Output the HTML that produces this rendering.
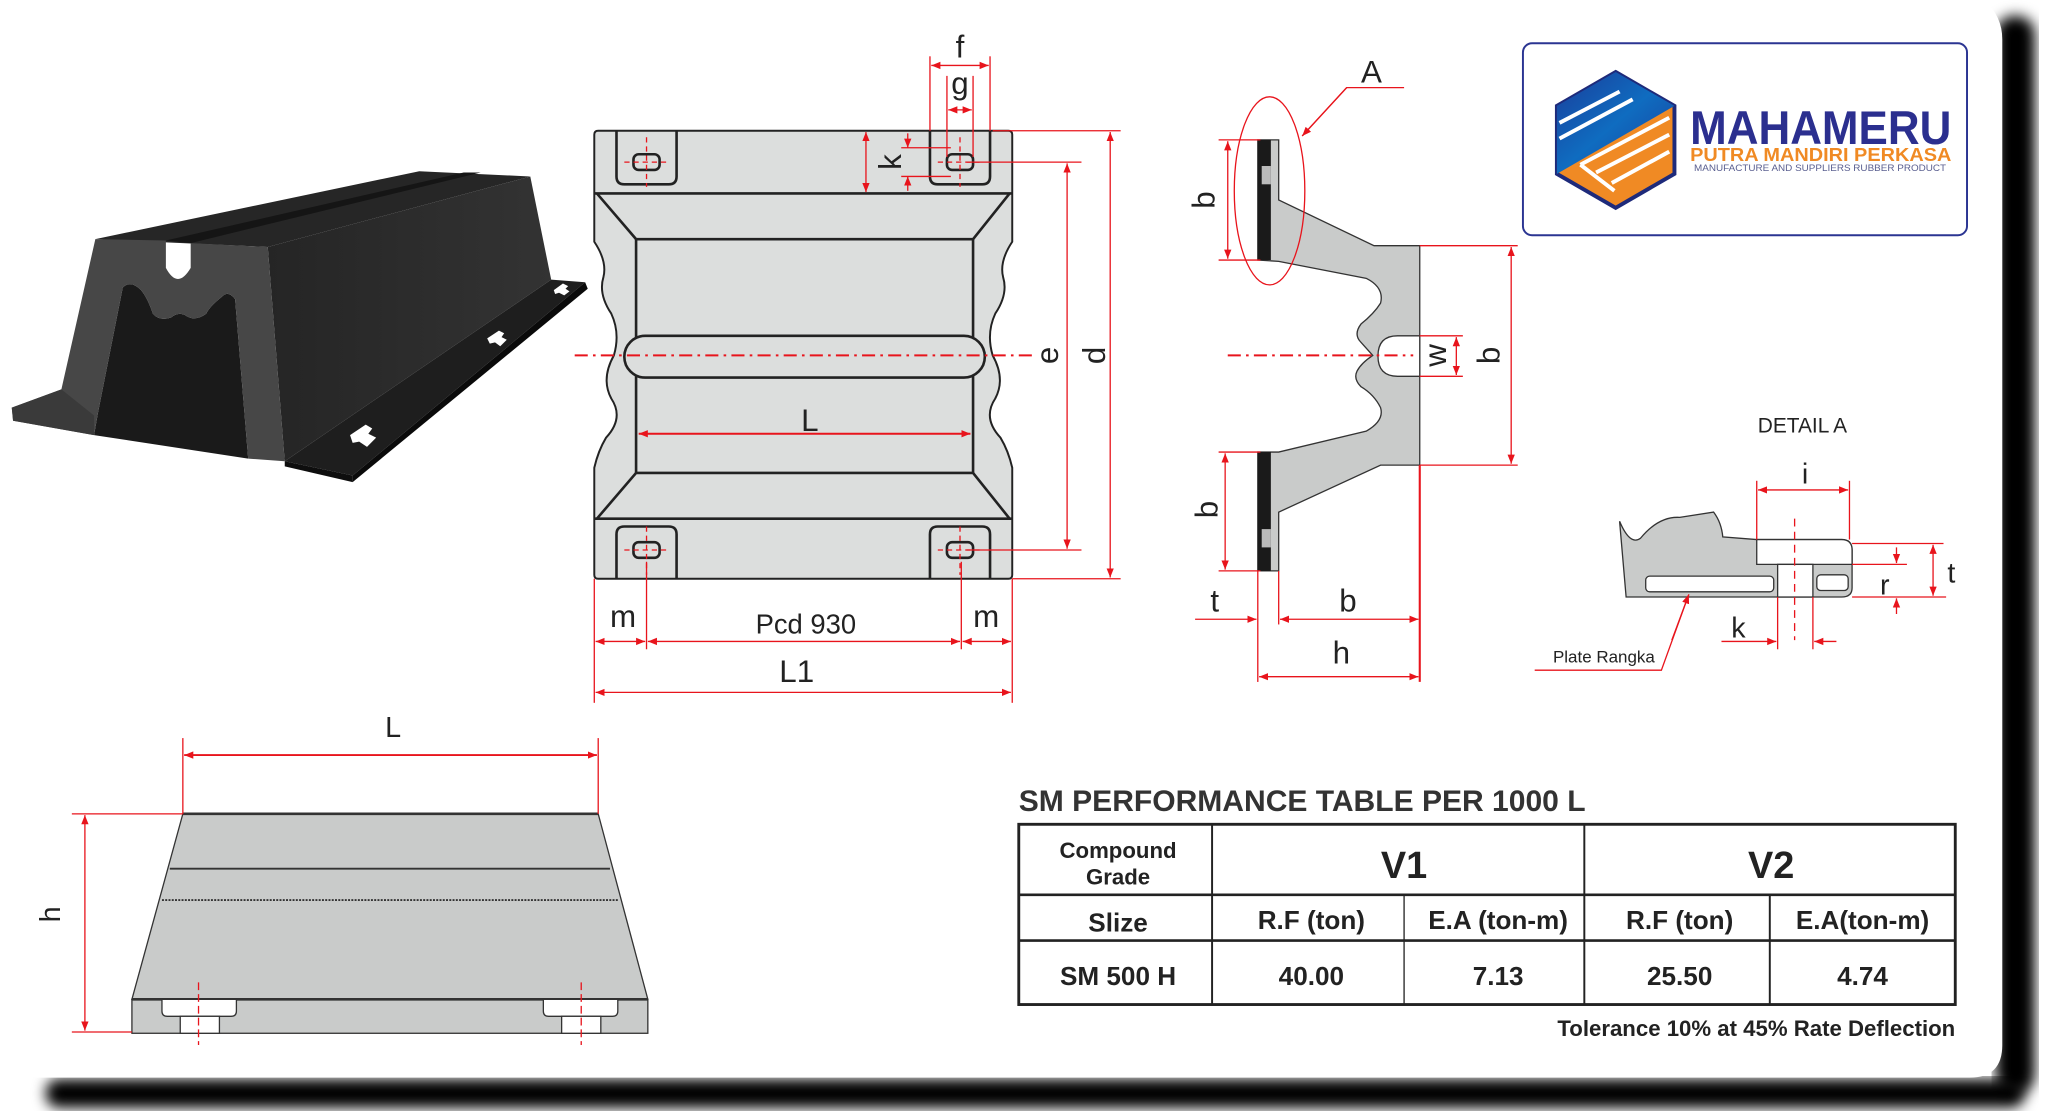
<!DOCTYPE html>
<html><head><meta charset="utf-8"><style>
html,body{margin:0;padding:0;background:#fff;}
svg{display:block;}
text{font-family:"Liberation Sans",sans-serif;}
</style></head><body>
<svg width="2048" height="1117" viewBox="0 0 1568 855" xmlns="http://www.w3.org/2000/svg">
<defs>
<marker id="a" viewBox="0 0 10 10" refX="10" refY="5" markerWidth="7" markerHeight="7" orient="auto-start-reverse" markerUnits="userSpaceOnUse"><path d="M0,1 L10,5 L0,9 Z" fill="#e8141c"/></marker>
<filter id="bl"><feGaussianBlur stdDeviation="5"/></filter>
<linearGradient id="hb" x1="0" y1="0" x2="1" y2="1"><stop offset="0" stop-color="#1a3d9a"/><stop offset="0.5" stop-color="#0f6cc0"/><stop offset="1" stop-color="#1a3d9a"/></linearGradient>
<linearGradient id="sd" x1="0" y1="0" x2="1" y2="0"><stop offset="0" stop-color="#252525"/><stop offset="1" stop-color="#333"/></linearGradient>
</defs>
<!-- page shadow -->
<rect x="1528" y="12" width="30" height="825" rx="14" fill="#000" filter="url(#bl)"/>
<rect x="35" y="826" width="1515" height="22" rx="10" fill="#000" filter="url(#bl)"/>
<path d="M-10,-10 L1505,-10 Q1533,5 1533,30 L1533,800 Q1533,825 1508,825 L-10,825 Z" fill="#fff"/>

<!-- 3D fender -->
<g>
<polygon points="73,183 321,131 406,135 205,189" fill="#262626"/>
<polygon points="127,184 146,186 368,132 355,132" fill="#151515"/>
<polygon points="205,189 406,135 422,214 218,353" fill="url(#sd)"/>
<polygon points="218,353 422,214 448,216 270,364" fill="#1e1e1e"/>
<polygon points="218,353 270,364 270,369 218,357" fill="#0e0e0e"/>
<polygon points="270,364 448,216 450,221 270,369" fill="#0a0a0a"/>
<path d="M94,220 Q100,214 108,222 Q113,228 117,240 Q122,246 131,243 Q137,238 143,242 Q150,246 158,240 Q160,235 170,227 Q175,222 180,229 L190,351 L72,333 L75,316 Z" fill="#1a1a1a"/>
<path d="M73,183 L127,184 L127,205 Q136,222 146,205 L146,186 L205,189 L218,353 L190,351 L180,229 Q175,222 170,227 Q160,235 158,240 Q150,246 143,242 Q137,238 131,243 Q122,246 117,240 Q113,228 108,222 Q100,214 94,220 L75,316 L72,333 L10,322 L9,312 L47,298 Z" fill="#474747"/>
<polygon points="47,298 9,312 10,322 72,333 72,318" fill="#3a3a3a"/>
<g fill="#fff"><path d="M268,333 l12,-8 l5,3 l-3,4 l6,3 l-7,7 l-6,-4 l-5,1z"/><path d="M373,259 l9,-6 l4,2 l-2,3 l4,2 l-5,5 l-4,-3 l-4,1z"/><path d="M424,222 l7,-5 l4,2 l-2,2 l3,2 l-4,3 l-4,-2 l-3,1z"/></g>
</g>

<!-- Front view -->
<g stroke="#222" stroke-width="2" fill="#dcdedd">
<path d="M458,100 L772,100 Q775,100 775,103 L775,185 Q765,200 768,212 Q772,225 762,240 Q755,255 760,272 Q770,290 762,305 Q752,320 766,335 Q772,345 775,358 L775,440 Q775,443 772,443 L458,443 Q455,443 455,440 L455,358 Q458,345 464,335 Q478,320 468,305 Q460,290 470,272 Q475,255 468,240 Q458,225 462,212 Q465,200 455,185 L455,103 Q455,100 458,100 Z" stroke-width="1.5"/>
<path d="M472,100 L472,135 Q472,141 478,141 L512,141 Q518,141 518,135 L518,100" fill="none" stroke-width="2"/>
<path d="M712,100 L712,135 Q712,141 718,141 L752,141 Q758,141 758,135 L758,100" fill="none"/>
<path d="M472,443 L472,409 Q472,403 478,403 L512,403 Q518,403 518,409 L518,443" fill="none"/>
<path d="M712,443 L712,409 Q712,403 718,403 L752,403 Q758,403 758,409 L758,443" fill="none"/>
<rect x="485" y="118" width="20" height="12" rx="4" fill="none"/>
<rect x="725" y="118" width="20" height="12" rx="4" fill="none"/>
<rect x="485" y="415" width="20" height="12" rx="4" fill="none"/>
<rect x="725" y="415" width="20" height="12" rx="4" fill="none"/>
<line x1="455" y1="148" x2="775" y2="148"/>
<line x1="455" y1="397" x2="775" y2="397"/>
<polyline points="457,148 487,183 745,183 773,148" fill="none"/>
<polyline points="457,397 487,362 745,362 773,397" fill="none"/>
<line x1="487" y1="183" x2="487" y2="362"/>
<line x1="745" y1="183" x2="745" y2="362"/>
<rect x="478" y="257" width="276" height="32" rx="16"/>
</g>
<g stroke="#e8141c" stroke-width="1" fill="none">
<line x1="440" y1="272" x2="790" y2="272" stroke-width="1.5" stroke-dasharray="10,4,2,4"/>
<g stroke-dasharray="4,3"><line x1="495" y1="105" x2="495" y2="143"/><line x1="478" y1="124" x2="512" y2="124"/><line x1="735" y1="105" x2="735" y2="143"/><line x1="718" y1="124" x2="752" y2="124"/><line x1="495" y1="403" x2="495" y2="440"/><line x1="478" y1="421" x2="512" y2="421"/><line x1="735" y1="403" x2="735" y2="440"/><line x1="718" y1="421" x2="752" y2="421"/></g>
<line x1="489" y1="332" x2="743" y2="332" marker-start="url(#a)" marker-end="url(#a)" stroke-width="1.5"/>
<line x1="760" y1="100" x2="858" y2="100"/><line x1="740" y1="124" x2="828" y2="124"/>
<line x1="740" y1="421" x2="828" y2="421"/><line x1="775" y1="443" x2="858" y2="443"/>
<line x1="850" y1="101" x2="850" y2="442" marker-start="url(#a)" marker-end="url(#a)"/>
<line x1="817" y1="125" x2="817" y2="420" marker-start="url(#a)" marker-end="url(#a)"/>
<line x1="712" y1="43" x2="712" y2="100"/><line x1="758" y1="43" x2="758" y2="100"/>
<line x1="725" y1="58" x2="725" y2="120"/><line x1="745" y1="58" x2="745" y2="120"/>
<line x1="713" y1="50" x2="757" y2="50" marker-start="url(#a)" marker-end="url(#a)"/>
<line x1="726" y1="84" x2="744" y2="84" marker-start="url(#a)" marker-end="url(#a)"/>
<line x1="663" y1="101" x2="663" y2="147" marker-start="url(#a)" marker-end="url(#a)"/>
<line x1="690" y1="113" x2="728" y2="113"/><line x1="690" y1="135" x2="728" y2="135"/>
<line x1="695" y1="102" x2="695" y2="113" marker-end="url(#a)"/>
<line x1="695" y1="146" x2="695" y2="135" marker-end="url(#a)"/>
<line x1="455" y1="443" x2="455" y2="538"/><line x1="775" y1="443" x2="775" y2="538"/>
<line x1="495" y1="430" x2="495" y2="497"/><line x1="736" y1="430" x2="736" y2="497"/>
<line x1="456" y1="491" x2="494" y2="491" marker-start="url(#a)" marker-end="url(#a)"/>
<line x1="496" y1="491" x2="735" y2="491" marker-start="url(#a)" marker-end="url(#a)"/>
<line x1="737" y1="491" x2="774" y2="491" marker-start="url(#a)" marker-end="url(#a)"/>
<line x1="456" y1="530" x2="774" y2="530" marker-start="url(#a)" marker-end="url(#a)"/>
</g>
<g fill="#222" font-size="24">
<text x="620" y="330" text-anchor="middle">L</text>
<text x="735" y="44" text-anchor="middle">f</text>
<text x="735" y="72" text-anchor="middle">g</text>
<text transform="translate(690,124) rotate(-90)" text-anchor="middle">k</text>
<text transform="translate(810,272) rotate(-90)" text-anchor="middle">e</text>
<text transform="translate(846,272) rotate(-90)" text-anchor="middle">d</text>
<text x="477" y="480" text-anchor="middle">m</text>
<text x="755" y="480" text-anchor="middle">m</text>
<text x="617" y="485" text-anchor="middle" font-size="21">Pcd 930</text>
<text x="610" y="522" text-anchor="middle">L1</text>
</g>

<!-- Side profile -->
<path d="M979,107 L979,153 L1052,188 L1087,188 L1087,356 L1057,356 L979,392 L979,437 L963,437 L963,346 L979,346 L1046,330 Q1060,322 1057,312 Q1052,302 1042,296 Q1036,290 1039,284 Q1042,278 1051,272 L1042,262 Q1036,256 1042,248 Q1052,240 1057,232 Q1060,220 1046,213 L979,200 L963,199 L963,107 Z" fill="#c9cbca" stroke="#333" stroke-width="1"/>
<path d="M1087,257 L1070,257 Q1055,257 1055,272.5 Q1055,288 1070,288 L1087,288 Z" fill="#fff" stroke="#333" stroke-width="1"/>
<rect x="963" y="107" width="10" height="92" fill="#1a1a1a"/>
<rect x="963" y="346" width="10" height="91" fill="#1a1a1a"/>
<rect x="966" y="127" width="7" height="14" fill="#bbb"/>
<rect x="966" y="405" width="7" height="14" fill="#bbb"/>
<g stroke="#e8141c" stroke-width="1" fill="none">
<ellipse cx="972" cy="146" rx="27" ry="72"/>
<polyline points="997,104 1031,67 1075,67" />
<line x1="1031" y1="67" x2="997" y2="104" marker-end="url(#a)"/>
<line x1="940" y1="272" x2="1082" y2="272" stroke-width="1.5" stroke-dasharray="10,4,2,4"/>
<line x1="933" y1="107" x2="965" y2="107"/><line x1="933" y1="199" x2="965" y2="199"/>
<line x1="940" y1="108" x2="940" y2="198" marker-start="url(#a)" marker-end="url(#a)"/>
<line x1="933" y1="346" x2="965" y2="346"/><line x1="933" y1="437" x2="965" y2="437"/>
<line x1="938" y1="347" x2="938" y2="436" marker-start="url(#a)" marker-end="url(#a)"/>
<line x1="1087" y1="188" x2="1162" y2="188"/><line x1="1087" y1="356" x2="1162" y2="356"/>
<line x1="1157" y1="189" x2="1157" y2="355" marker-start="url(#a)" marker-end="url(#a)"/>
<line x1="1087" y1="257" x2="1120" y2="257"/><line x1="1087" y1="288" x2="1120" y2="288"/>
<line x1="1115" y1="258" x2="1115" y2="287" marker-start="url(#a)" marker-end="url(#a)"/>
<line x1="963" y1="437" x2="963" y2="522"/><line x1="979" y1="437" x2="979" y2="478"/>
<line x1="1087" y1="356" x2="1087" y2="522" stroke-width="1.6"/>
<line x1="915" y1="474" x2="962" y2="474" marker-end="url(#a)"/>
<line x1="980" y1="474" x2="1086" y2="474" marker-start="url(#a)" marker-end="url(#a)"/>
<line x1="964" y1="518" x2="1086" y2="518" marker-start="url(#a)" marker-end="url(#a)"/>
</g>
<g fill="#222" font-size="24">
<text x="1050" y="63" text-anchor="middle">A</text>
<text transform="translate(930,153) rotate(-90)" text-anchor="middle">b</text>
<text transform="translate(932,390) rotate(-90)" text-anchor="middle">b</text>
<text transform="translate(1148,272) rotate(-90)" text-anchor="middle">b</text>
<text transform="translate(1107,272) rotate(-90)" text-anchor="middle">w</text>
<text x="930" y="468" text-anchor="middle">t</text>
<text x="1032" y="468" text-anchor="middle">b</text>
<text x="1027" y="508" text-anchor="middle">h</text>
</g>

<!-- Logo -->
<rect x="1166" y="33" width="340" height="147" rx="7" fill="#fff" stroke="#2b3592" stroke-width="1.5"/>
<g>
<polygon points="1237,55 1282,81 1282,133 1237,159 1192,133 1192,81" fill="#f08a24" stroke="#1e2a7a" stroke-width="3"/>
<polygon points="1237,55 1282,81 1192,133 1192,81" fill="url(#hb)"/>
<g stroke="#fff" stroke-width="3"><line x1="1194" y1="94" x2="1240" y2="70"/><line x1="1194" y1="106" x2="1250" y2="76"/><line x1="1210" y1="126" x2="1278" y2="90"/><line x1="1222" y1="132" x2="1278" y2="103"/><line x1="1234" y1="140" x2="1278" y2="116"/><line x1="1210" y1="126" x2="1236" y2="146"/></g>
</g>
<text x="1294" y="110" font-size="36" font-weight="bold" fill="#2b2f8f" textLength="200" lengthAdjust="spacingAndGlyphs">MAHAMERU</text>
<text x="1294" y="123" font-size="14" font-weight="bold" fill="#f08a24" textLength="200" lengthAdjust="spacingAndGlyphs">PUTRA MANDIRI PERKASA</text>
<text x="1297" y="131" font-size="7" fill="#5a5f90" textLength="193" lengthAdjust="spacingAndGlyphs">MANUFACTURE AND SUPPLIERS RUBBER PRODUCT</text>

<!-- Detail A -->
<text x="1380" y="331" font-size="16" fill="#222" text-anchor="middle">DETAIL A</text>
<path d="M1240,399 Q1248,418 1256,412 Q1270,395 1286,396 L1312,392 Q1318,400 1319,411 L1345,413 L1410,413 Q1418,413 1418,421 L1418,450 Q1418,457 1410,457 L1245,457 Z" fill="#c9cbca" stroke="#333" stroke-width="1"/>
<path d="M1345,413 L1410,413 Q1418,413 1418,421 L1418,432 L1345,432 Z" fill="#fff" stroke="#333" stroke-width="1"/>
<rect x="1361" y="432" width="27" height="25" fill="#fff" stroke="#333" stroke-width="1"/>
<rect x="1391" y="440" width="24" height="12" rx="3" fill="#fff" stroke="#333" stroke-width="1"/>
<rect x="1260" y="441" width="98" height="12" rx="3" fill="#fff" stroke="#333" stroke-width="1"/>
<g stroke="#e8141c" stroke-width="1" fill="none">
<line x1="1374" y1="397" x2="1374" y2="490" stroke-dasharray="6,4"/>
<line x1="1345" y1="368" x2="1345" y2="413"/><line x1="1416" y1="368" x2="1416" y2="413"/>
<line x1="1346" y1="375" x2="1415" y2="375" marker-start="url(#a)" marker-end="url(#a)"/>
<line x1="1418" y1="416" x2="1488" y2="416"/><line x1="1418" y1="432" x2="1460" y2="432"/><line x1="1418" y1="457" x2="1490" y2="457"/>
<line x1="1480" y1="417" x2="1480" y2="456" marker-start="url(#a)" marker-end="url(#a)"/>
<line x1="1452" y1="419" x2="1452" y2="431" marker-end="url(#a)"/>
<line x1="1452" y1="470" x2="1452" y2="458" marker-end="url(#a)"/>
<line x1="1361" y1="457" x2="1361" y2="497"/><line x1="1388" y1="457" x2="1388" y2="497"/>
<line x1="1318" y1="491" x2="1360" y2="491" marker-end="url(#a)"/>
<line x1="1406" y1="491" x2="1389" y2="491" marker-end="url(#a)"/>
<polyline points="1175,513 1272,513 1293,455"/>
<line x1="1280" y1="490" x2="1293" y2="455" marker-end="url(#a)"/>
</g>
<g fill="#222">
<text x="1382" y="370" font-size="22" text-anchor="middle">i</text>
<text x="1443" y="455" font-size="22" text-anchor="middle">r</text>
<text x="1494" y="446" font-size="22" text-anchor="middle">t</text>
<text x="1331" y="488" font-size="22" text-anchor="middle">k</text>
<text x="1228" y="507" font-size="13" text-anchor="middle">Plate Rangka</text>
</g>

<!-- Bottom-left side view -->
<polygon points="140,623 458,623 496,765 101,765" fill="#c9cbca" stroke="#333" stroke-width="1"/>
<rect x="101" y="765" width="395" height="26" fill="#c9cbca" stroke="#333" stroke-width="1"/>
<line x1="140" y1="623" x2="458" y2="623" stroke="#333" stroke-width="2"/>
<line x1="130" y1="665" x2="467" y2="665" stroke="#333" stroke-width="1.5"/>
<line x1="124" y1="689" x2="473" y2="689" stroke="#333" stroke-width="1.5" stroke-dasharray="1.5,1"/>
<line x1="101" y1="765" x2="496" y2="765" stroke="#333" stroke-width="2"/>
<g fill="#fff" stroke="#333" stroke-width="1">
<path d="M124,765 L124,774 Q124,778 128,778 L177,778 Q181,778 181,774 L181,765 Z"/>
<rect x="138" y="778" width="30" height="13"/>
<path d="M416,765 L416,774 Q416,778 420,778 L469,778 Q473,778 473,774 L473,765 Z"/>
<rect x="430" y="778" width="30" height="13"/>
</g>
<g stroke="#e8141c" stroke-width="1" fill="none">
<line x1="152" y1="752" x2="152" y2="800" stroke-dasharray="6,3"/>
<line x1="445" y1="752" x2="445" y2="800" stroke-dasharray="6,3"/>
<line x1="140" y1="565" x2="140" y2="623"/><line x1="458" y1="565" x2="458" y2="623"/>
<line x1="141" y1="578" x2="457" y2="578" marker-start="url(#a)" marker-end="url(#a)" stroke-width="1.5"/>
<line x1="55" y1="623" x2="140" y2="623"/><line x1="55" y1="790" x2="101" y2="790"/>
<line x1="65" y1="624" x2="65" y2="789" marker-start="url(#a)" marker-end="url(#a)"/>
</g>
<text x="301" y="564" font-size="22" fill="#222" text-anchor="middle">L</text>
<text transform="translate(46,700) rotate(-90)" font-size="22" fill="#222" text-anchor="middle">h</text>

<!-- Table -->
<text x="780" y="621" font-size="23" font-weight="bold" fill="#333">SM PERFORMANCE TABLE PER 1000 L</text>
<g stroke="#222" fill="none">
<rect x="780" y="631" width="717" height="138" stroke-width="2.2"/>
<line x1="780" y1="685" x2="1497" y2="685" stroke-width="2"/>
<line x1="780" y1="720" x2="1497" y2="720" stroke-width="2"/>
<line x1="928" y1="631" x2="928" y2="769" stroke-width="1.5"/>
<line x1="1213" y1="631" x2="1213" y2="769" stroke-width="1.5"/>
<line x1="1075" y1="685" x2="1075" y2="769" stroke-width="1"/>
<line x1="1355" y1="685" x2="1355" y2="769" stroke-width="1.5"/>
</g>
<g fill="#222" font-weight="bold" text-anchor="middle">
<text x="856" y="657" font-size="17">Compound</text>
<text x="856" y="677" font-size="17">Grade</text>
<text x="1075" y="672" font-size="29">V1</text>
<text x="1356" y="672" font-size="29">V2</text>
<text x="856" y="713" font-size="20">Slize</text>
<text x="1004" y="711" font-size="20">R.F (ton)</text>
<text x="1147" y="711" font-size="20">E.A (ton-m)</text>
<text x="1286" y="711" font-size="20">R.F (ton)</text>
<text x="1426" y="711" font-size="20">E.A(ton-m)</text>
<text x="856" y="754" font-size="20">SM 500 H</text>
<text x="1004" y="754" font-size="20">40.00</text>
<text x="1147" y="754" font-size="20">7.13</text>
<text x="1286" y="754" font-size="20">25.50</text>
<text x="1426" y="754" font-size="20">4.74</text>
<text x="1497" y="793" font-size="17" text-anchor="end">Tolerance  10% at 45% Rate Deflection</text>
</g>
</svg>
</body></html>
